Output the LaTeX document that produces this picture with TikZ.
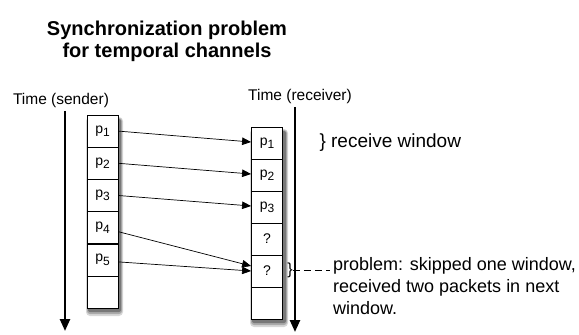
\documentclass[tikz,border=0pt]{standalone}
\usepackage{fontspec}
\setmainfont{Liberation Sans}
\usetikzlibrary{arrows.meta}
\definecolor{shadowlight}{RGB}{215,215,215}
\definecolor{shadowmid}{RGB}{170,170,170}
\definecolor{shadowdark}{RGB}{120,120,120}
\tikzset{
  diag/cell/.style={draw, line width=0.8pt, fill=white, minimum width=31pt, minimum height=32pt, inner sep=0pt, font=\fontsize{14}{16}\selectfont},
  diag/msg/.style={line width=0.7pt, -{Triangle[length=9pt,width=7.5pt]}},
  diag/time/.style={line width=2.4pt, -{Triangle[length=12pt,width=10pt]}},
  diag/label/.style={font=\fontsize{15.5}{18}\selectfont}
}
\newcommand{\pkt}[1]{p\raisebox{-0.45ex}{\fontsize{12}{14}\selectfont #1}}

\begin{document}
\begin{tikzpicture}[x=1pt,y=-1pt]
  \useasboundingbox (0,0) rectangle (579,335);
  \node[font=\fontsize{20}{22}\selectfont\bfseries, align=center] (title) at (167,41) {Synchronization problem\\for temporal channels};

  % time axes
  \node[diag/label] (tsend) at (61,100) {Time (sender)};
  \node[diag/label] (trecv) at (300,96) {Time (receiver)};
  \coordinate (send-end) at (65,331);
  \coordinate (recv-end) at (295,332);
  \draw[diag/time] (tsend.south -| send-end) -- (send-end);
  \draw[diag/time] (trecv.south -| recv-end) -- (recv-end);

  % soft shadows under the columns
  \fill[shadowlight, rounded corners=4pt] (86,117) rectangle (123,316);
  \fill[shadowmid, rounded corners=3pt] (87,118) rectangle (122,314);
  \fill[shadowdark, rounded corners=2pt] (88,119) rectangle (121,312);
  \fill[shadowlight, rounded corners=4pt] (250,129) rectangle (288,327);
  \fill[shadowmid, rounded corners=3pt] (251,130) rectangle (287,325);
  \fill[shadowdark, rounded corners=2pt] (252,131) rectangle (286,323);

  % packet columns
  \foreach \i/\t in {1/\pkt{1},2/\pkt{2},3/\pkt{3},4/\pkt{4},5/\pkt{5},6/{}}
    \node[diag/cell] (s\i) at (102.5,{115+32.2*(\i-0.5)}) {\t};
  \foreach \i/\t in {1/\pkt{1},2/\pkt{2},3/\pkt{3},4/?,5/?,6/{}}
    \node[diag/cell] (r\i) at (267,{127+32*(\i-0.5)}) {\t};

  \foreach \i in {1,2,3} \draw[diag/msg] (s\i.east) -- ([yshift=1pt]r\i.west);
  \draw[diag/msg] ([yshift=-4pt]s4.east) -- ([yshift=5pt]r5.west);
  \draw[diag/msg] ([yshift=-2pt]s5.east) -- (r5.west);

  % notes
  \node[font=\fontsize{19}{22}\selectfont, anchor=west] (rwin) at (316,143) {\} receive window};
  \node[font=\fontsize{16}{20}\selectfont, inner sep=0pt] (pbrace) at (290,270) {\}};
  \node[font=\fontsize{18}{22}\selectfont, align=left, anchor=north west, inner sep=0pt] (prob) at (333,257) {problem: skipped one window,\\received two packets in next\\window.};
  \draw[dash pattern=on 7pt off 4pt] (pbrace.east) -- ([xshift=-3pt]pbrace.east -| prob.west);
\end{tikzpicture}
\end{document}
